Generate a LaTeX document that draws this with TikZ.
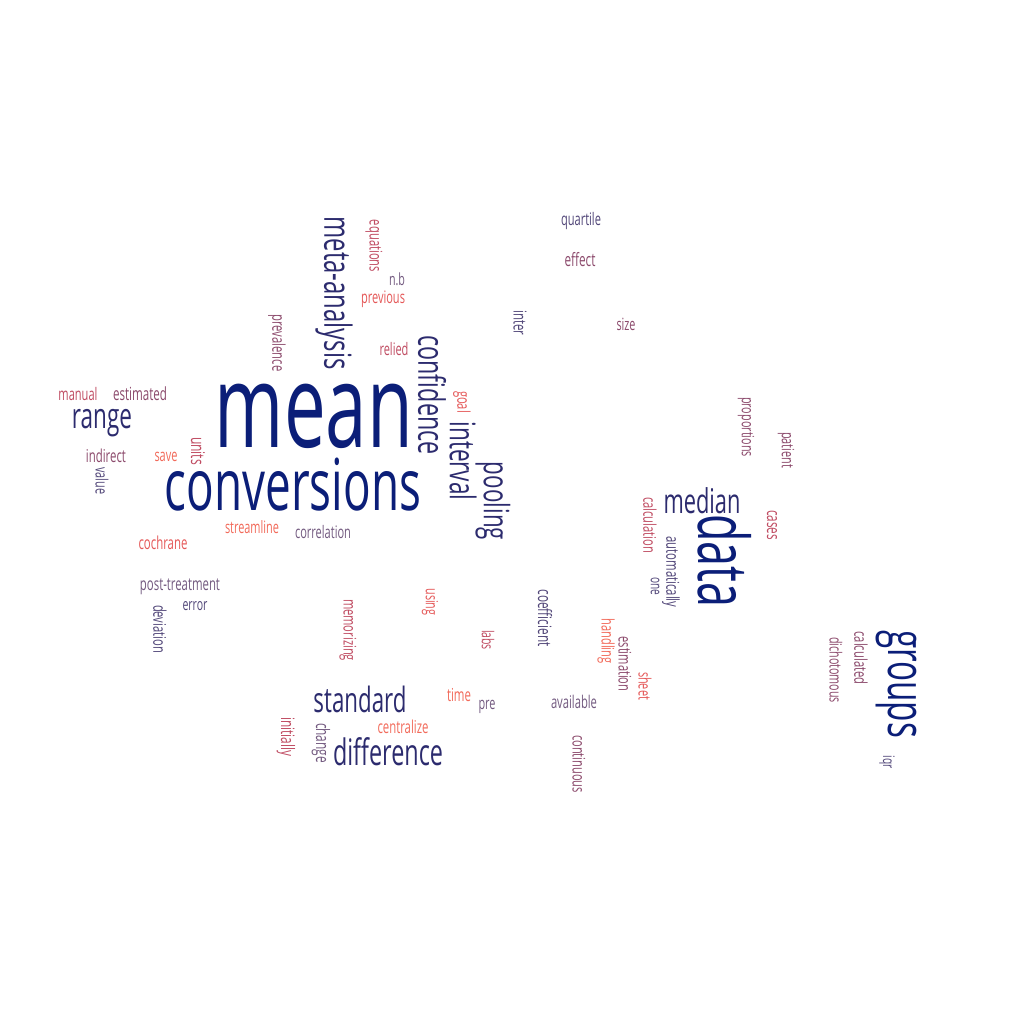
\documentclass[tikz,border=0pt]{standalone}
\usepackage{fontspec}
\setmainfont{Open Sans}
\usepackage{tikz}
\usetikzlibrary{positioning}

\definecolor{navy}{HTML}{0B1E78}
\definecolor{indigo}{HTML}{2C2B6E}
\definecolor{purple}{HTML}{524779}
\definecolor{plum}{HTML}{735A80}
\definecolor{mauve}{HTML}{8C4A6C}
\definecolor{rose}{HTML}{C04C62}
\definecolor{red}{HTML}{E55858}
\definecolor{salmon}{HTML}{F26A5A}

% word squeezed to a condensed face, then set to its length in the cloud
\newcommand{\cword}[2]{\resizebox{#1pt}{!}{\scalebox{0.64}[1]{#2}}}

\begin{document}
\begin{tikzpicture}[x=1pt,y=-1pt]
\tikzset{w/.style = {inner sep=0pt, anchor=center}}
\tikzset{rot/.style = {rotate=-90}}
\fill[white] (0,0) rectangle (1024,1024);
\useasboundingbox (0,0) rectangle (1024,1024);
% large words
\node[w, navy] (mean) at (314,416) {\cword{198}{mean}};
\node[w, navy] (conversions) at (293,485) {\cword{256}{conversions}};
\node[w, navy, rot] (data) at (725,561) {\cword{93}{data}};
\node[w, navy, rot] (groups) at (896,684) {\cword{108}{groups}};
% medium words
\node[w, indigo, rot] (metaanalysis) at (334,293) {\cword{153}{meta-analysis}};
\node[w, indigo, rot] (confidence) at (432,395) {\cword{119}{confidence}};
\node[w, indigo, rot] (interval) at (463,461) {\cword{79}{interval}};
\node[w, indigo, rot] (pooling) at (493,501) {\cword{78}{pooling}};
\node[w, indigo] (range) at (102,423) {\cword{60}{range}};
\node[w, indigo] (median) at (702,501) {\cword{77}{median}};
\node[w, indigo] (standard) at (360,699) {\cword{93}{standard}};
\node[w, indigo] (difference) at (388,752) {\cword{110}{difference}};
% small words, horizontal
\node[w, purple] (quartile) at (581,221) {\cword{40}{quartile}};
\node[w, mauve] (effect) at (580,260) {\cword{31}{effect}};
\node[w, plum] (nb) at (397,279) {\cword{16}{n.b}};
\node[w, red] (previous) at (383,299) {\cword{44}{previous}};
\node[w, mauve] (size) at (626,324) {\cword{19}{size}};
\node[w, rose] (relied) at (394,349) {\cword{29}{relied}};
\node[w, rose] (manual) at (78,394) {\cword{39}{manual}};
\node[w, mauve] (estimated) at (140,394) {\cword{54}{estimated}};
\node[w, mauve] (indirect) at (106,456) {\cword{40}{indirect}};
\node[w, salmon] (save) at (166,457) {\cword{23}{save}};
\node[w, salmon] (streamline) at (252,527) {\cword{54}{streamline}};
\node[w, plum] (correlation) at (323,532) {\cword{56}{correlation}};
\node[w, red] (cochrane) at (163,543) {\cword{49}{cochrane}};
\node[w, plum] (posttreatment) at (180,587) {\cword{80}{post-treatment}};
\node[w, purple] (error) at (195,606) {\cword{25}{error}};
\node[w, salmon] (time) at (459,695) {\cword{24}{time}};
\node[w, plum] (pre) at (487,707) {\cword{17}{pre}};
\node[w, plum] (available) at (574,702) {\cword{46}{available}};
\node[w, salmon] (centralize) at (403,727) {\cword{51}{centralize}};
% small words, turned
\node[w, rose, rot] (equations) at (374,246) {\cword{52}{equations}};
\node[w, mauve, rot] (prevalence) at (277,343) {\cword{57}{prevalence}};
\node[w, purple, rot] (inter) at (520,323) {\cword{25}{inter}};
\node[w, red, rot] (goal) at (462,402) {\cword{22}{goal}};
\node[w, mauve, rot] (proportions) at (746,427) {\cword{60}{proportions}};
\node[w, mauve, rot] (patient) at (786,450) {\cword{36}{patient}};
\node[w, rose, rot] (units) at (198,451) {\cword{28}{units}};
\node[w, purple, rot] (value) at (102,481) {\cword{27}{value}};
\node[w, rose, rot] (cases) at (772,525) {\cword{30}{cases}};
\node[w, rose, rot] (calculation) at (650,525) {\cword{56}{calculation}};
\node[w, purple, rot] (automatically) at (671,572) {\cword{71}{automatically}};
\node[w, purple, rot] (one) at (655,586) {\cword{18}{one}};
\node[w, purple, rot] (coefficient) at (545,618) {\cword{57}{coefficient}};
\node[w, red, rot] (using) at (430,602) {\cword{27}{using}};
\node[w, purple, rot] (deviation) at (160,629) {\cword{48}{deviation}};
\node[w, rose, rot] (memorizing) at (348,630) {\cword{62}{memorizing}};
\node[w, rose, rot] (labs) at (488,640) {\cword{20}{labs}};
\node[w, salmon, rot] (handling) at (606,641) {\cword{45}{handling}};
\node[w, mauve, rot] (estimation) at (625,664) {\cword{55}{estimation}};
\node[w, red, rot] (sheet) at (645,686) {\cword{28}{sheet}};
\node[w, mauve, rot] (dichotomous) at (836,670) {\cword{66}{dichotomous}};
\node[w, mauve, rot] (calculated) at (861,658) {\cword{53}{calculated}};
\node[w, purple, rot] (iqr) at (887,762) {\cword{13}{iqr}};
\node[w, rose, rot] (initially) at (286,737) {\cword{39}{initially}};
\node[w, plum, rot] (change) at (321,743) {\cword{40}{change}};
\node[w, mauve, rot] (continuous) at (579,764) {\cword{58}{continuous}};
\end{tikzpicture}
\end{document}
